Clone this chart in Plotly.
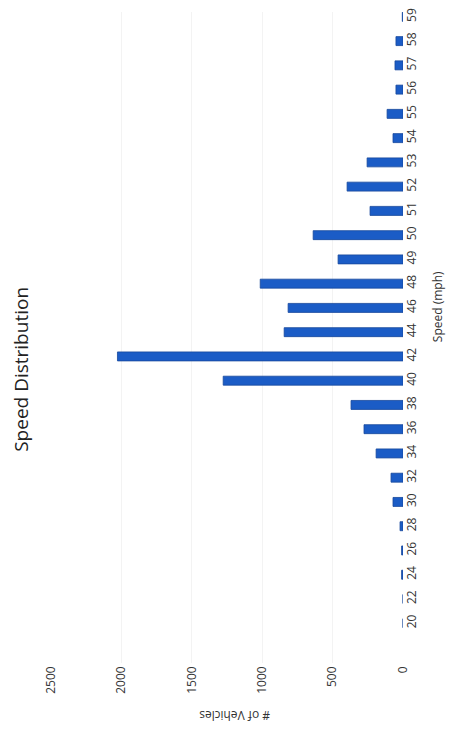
import plotly.graph_objects as go

speeds = ["20", "22", "24", "26", "28", "30", "32", "34", "36", "38", "40", "42", "44",
          "46", "48", "49", "50", "51", "52", "53", "54", "55", "56", "57", "58", "59"]
vehicles = [0, 0, 10, 10, 21, 71, 85, 191, 277, 369, 1277, 2028, 844,
            816, 1014, 461, 638, 234, 397, 255, 71, 113, 50, 57, 50, 5]
value_ticks = [0, 500, 1000, 1500, 2000, 2500]

W, H = 457, 730
ml, mr, mt, mb = 43, 62, 0, 75

fig = go.Figure()
fig.add_trace(go.Bar(
    y=speeds, x=vehicles, orientation="h",
    marker=dict(color="#1b5cc6", line=dict(color="#17479c", width=0.8)),
    width=0.37,
))

font_fam = "Open Sans, Liberation Sans, sans-serif"
pw = W - ml - mr
ph = H - mt - mb


def px_to_paper(xp, yp):
    return (xp - ml) / pw, (H - mb - yp) / ph


tx, ty = px_to_paper(13, 360)
sx, sy = px_to_paper(429, 297)
vx, vy = px_to_paper(227, 708)

fig.update_layout(
    width=W, height=H,
    margin=dict(l=ml, r=mr, t=mt, b=mb),
    paper_bgcolor="white", plot_bgcolor="white",
    showlegend=False,
    font=dict(family=font_fam, size=12, color="#333333"),
    xaxis=dict(range=[2500, 0], tickvals=value_ticks, tickangle=-90,
               showgrid=True, gridcolor="#f3f3f3", gridwidth=1,
               zeroline=False, showline=False, ticks="", ticklen=4,
               tickfont=dict(size=12, color="#333333")),
    yaxis=dict(type="category", categoryorder="array", categoryarray=speeds,
               range=[-1.64, 25.2], side="right", tickangle=-90,
               showgrid=False, zeroline=False, showline=False, ticks="",
               tickfont=dict(size=12, color="#333333")),
    annotations=[
        dict(text="Speed Distribution", textangle=-90, x=tx, y=ty,
             xref="paper", yref="paper", showarrow=False,
             xanchor="center", yanchor="middle",
             font=dict(size=19, color="#222222", family=font_fam)),
        dict(text="Speed (mph)", textangle=-90, x=sx, y=sy,
             xref="paper", yref="paper", showarrow=False,
             xanchor="center", yanchor="middle",
             font=dict(size=12, color="#333333", family=font_fam)),
        dict(text="# of Vehicles", textangle=180, x=vx, y=vy,
             xref="paper", yref="paper", showarrow=False,
             xanchor="center", yanchor="middle",
             font=dict(size=12, color="#333333", family=font_fam)),
    ],
)

fig.write_html("out.html")
